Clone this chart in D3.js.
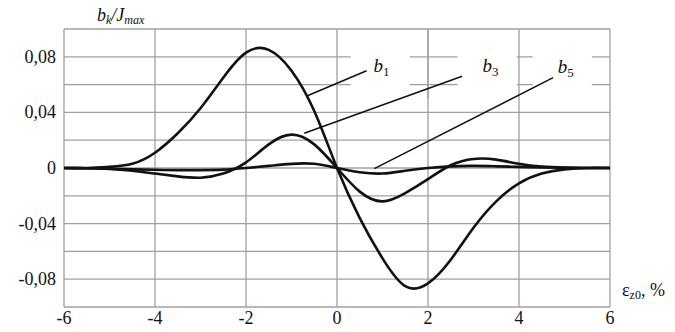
<!DOCTYPE html>
<html><head><meta charset="utf-8"><script src="https://cdn.jsdelivr.net/npm/d3@7"></script></head>
<body style="margin:0">
<script>
var width = 675;
var height = 332;
var marginLeft = 64, marginRight = 65, marginTop = 29, marginBottom = 25;
var serif = "Liberation Serif, Times New Roman, serif";

// data
var xs = [-6, -5.5, -5, -4.5, -4, -3.5, -3, -2.5, -2, -1.5, -1, -0.5, 0,
          0.5, 1, 1.5, 2, 2.5, 3, 3.5, 4, 4.5, 5, 5.5, 6];
var b1 = [0, 0, 0.0008, 0.003, 0.011, 0.025, 0.043, 0.065, 0.083, 0.085, 0.07, 0.041, 0,
          -0.036, -0.065, -0.085, -0.083, -0.066, -0.043, -0.024, -0.011, -0.004, -0.001, 0, 0];
var b3 = [0, -0.0002, -0.0006, -0.002, -0.004, -0.006, -0.007, -0.004, 0.004, 0.017, 0.024, 0.017, 0,
          -0.017, -0.024, -0.018, -0.008, 0.002, 0.0065, 0.006, 0.003, 0.001, 0.0003, 0, 0];
var b5 = [0, -0.0002, -0.0005, -0.001, -0.0013, -0.0015, -0.0015, -0.0012, 0, 0.0015, 0.003, 0.003, 0,
          -0.003, -0.004, -0.002, 0, 0.0012, 0.0015, 0.0012, 0.0008, 0.0004, 0.0002, 0, 0];
var xTicks = [-6, -4, -2, 0, 2, 4, 6];
var yTicks = [-0.08, -0.04, 0, 0.04, 0.08];
var yTickLabels = ["-0,08", "-0,04", "0", "0,04", "0,08"];
var yGrid = [-0.1, -0.08, -0.06, -0.04, -0.02, 0, 0.02, 0.04, 0.06, 0.08, 0.1];

// labels: name, subscript, label position (data), leader line from/to (data)
var labels = [
  {name: "b", sub: "1", lx: 0.8, ly: 0.069, from: [-0.65, 0.052], to: [0.65, 0.07]},
  {name: "b", sub: "3", lx: 3.2, ly: 0.069, from: [-0.72, 0.025], to: [2.75, 0.066]},
  {name: "b", sub: "5", lx: 4.85, ly: 0.068, from: [0.82, -0.0005], to: [4.75, 0.065]}
];

var svg = d3.select("body").append("svg")
    .attr("width", width)
    .attr("height", height);

var x = d3.scaleLinear().domain([-6, 6]).range([marginLeft, width - marginRight]);
var y = d3.scaleLinear().domain([-0.1, 0.1]).range([height - marginBottom, marginTop]);

var grid = svg.append("g").attr("stroke", "#a0a0a0").attr("stroke-width", 1.3);
grid.selectAll("line.v").data(xTicks).enter().append("line")
    .attr("x1", function (d) { return x(d); })
    .attr("x2", function (d) { return x(d); })
    .attr("y1", y(-0.1))
    .attr("y2", y(0.1));
grid.selectAll("line.h").data(yGrid).enter().append("line")
    .attr("x1", x(-6))
    .attr("x2", x(6))
    .attr("y1", function (d) { return y(d); })
    .attr("y2", function (d) { return y(d); });

// white patches behind labels, they hide parts of the grid
var patches = [[0.3, 1.6], [2.65, 3.95], [4.3, 5.6]];
svg.selectAll("rect.patch").data(patches).enter().append("rect")
    .attr("x", function (d) { return x(d[0]); })
    .attr("width", function (d) { return x(d[1]) - x(d[0]); })
    .attr("y", y(0.085))
    .attr("height", y(0.055) - y(0.085))
    .attr("fill", "#fff");
// vertical grid line at 2 stays visible through the patch
svg.append("line")
    .attr("x1", x(2)).attr("x2", x(2))
    .attr("y1", y(0.1)).attr("y2", y(0.05))
    .attr("stroke", "#a0a0a0").attr("stroke-width", 1.3);

var line = d3.line()
    .x(function (d) { return x(d[0]); })
    .y(function (d) { return y(d[1]); })
    .curve(d3.curveNatural);

[b5, b3, b1].forEach(function (s) {
    svg.append("path")
        .datum(xs.map(function (v, i) { return [v, s[i]]; }))
        .attr("fill", "none")
        .attr("stroke", "#111")
        .attr("stroke-width", 2.6)
        .attr("d", line);
});

function addText(sel) {
    return sel.append("text")
        .attr("font-family", serif)
        .style("font-family", serif)
        .attr("fill", "#111");
}

labels.forEach(function (l) {
    svg.append("line")
        .attr("x1", x(l.from[0])).attr("y1", y(l.from[1]))
        .attr("x2", x(l.to[0])).attr("y2", y(l.to[1]))
        .attr("stroke", "#111").attr("stroke-width", 1.5);
    var t = addText(svg)
        .attr("x", x(l.lx))
        .attr("y", y(l.ly))
        .attr("font-size", 19);
    t.append("tspan").attr("font-style", "italic").text(l.name);
    t.append("tspan").attr("font-size", 13).attr("dy", 4).text(l.sub);
});

// tick labels
xTicks.forEach(function (d) {
    addText(svg)
        .attr("x", x(d))
        .attr("y", height - 8)
        .attr("text-anchor", "middle")
        .attr("font-size", 18)
        .text(d);
});

yTicks.forEach(function (d, i) {
    addText(svg)
        .attr("x", marginLeft - 8)
        .attr("y", y(d) + 6)
        .attr("text-anchor", "end")
        .attr("font-size", 18)
        .text(yTickLabels[i]);
});

// axis titles
var yt = addText(svg).attr("x", 97).attr("y", 21).attr("font-size", 18);
yt.append("tspan").attr("font-style", "italic").text("b");
yt.append("tspan").attr("font-style", "italic").attr("font-size", 12).attr("dy", 3).text("k");
yt.append("tspan").attr("font-style", "italic").attr("dy", -3).text("/J");
yt.append("tspan").attr("font-style", "italic").attr("font-size", 12).attr("dy", 3).text("max");

var xt = addText(svg).attr("x", 622).attr("y", 296).attr("font-size", 18);
xt.append("tspan").text("ε");
xt.append("tspan").attr("font-size", 12).attr("dy", 3).text("z0");
xt.append("tspan").attr("dy", -3).text(", %");
</script>
</body>
</html>
